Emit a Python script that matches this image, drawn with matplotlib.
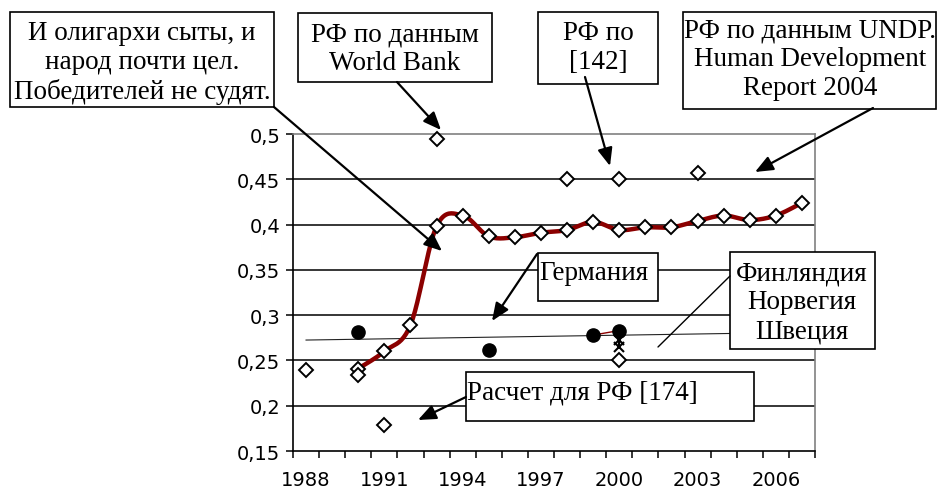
import numpy as np
import matplotlib
matplotlib.use("Agg")
import matplotlib.pyplot as plt
from matplotlib.patches import Rectangle, FancyArrowPatch

# ---------------- data ----------------
years = list(range(1988, 2008))
tick_label_years = [1988, 1991, 1994, 1997, 2000, 2003, 2006]
y_ticks = [0.15, 0.2, 0.25, 0.3, 0.35, 0.4, 0.45, 0.5]
y_tick_labels = ["0,15", "0,2", "0,25", "0,3", "0,35", "0,4", "0,45", "0,5"]

rf_years = [1990, 1991, 1992, 1993, 1994, 1995, 1996, 1997, 1998, 1999,
            2000, 2001, 2002, 2003, 2004, 2005, 2006, 2007]
rf_vals = [0.241, 0.260, 0.289, 0.398, 0.410, 0.387, 0.386, 0.391, 0.394, 0.403,
           0.394, 0.397, 0.397, 0.404, 0.410, 0.405, 0.410, 0.424]

other_years = [1988, 1990, 1991, 1993, 1998, 2000, 2003, 2000]
other_vals = [0.239, 0.234, 0.179, 0.495, 0.450, 0.450, 0.457, 0.250]

circle_years = [1990, 1995]
circle_vals = [0.281, 0.261]

nordic_years = [1999, 2000]
nordic_vals = [0.278, 0.283]

star_years = [2000]
star_vals = [0.273]
x_years = [2000]
x_vals = [0.265]

trend_years = [1988, 2007]
trend_vals = [0.2725, 0.281]

# ---------------- helpers ----------------
W, H = 940, 489


def cat(yrs):
    return np.array([years.index(y) for y in yrs], dtype=float)


def fp(x, y):
    return (x / W, 1 - y / H)


def smooth(x, y, n=24):
    pts = np.column_stack([x, y]).astype(float)
    P = np.vstack([pts[0], pts, pts[-1]])
    out = []
    t = np.linspace(0, 1, n)[:, None]
    for k in range(len(pts) - 1):
        p0, p1, p2, p3 = P[k], P[k + 1], P[k + 2], P[k + 3]
        c1 = p1 + (p2 - p0) / 6.0
        c2 = p2 - (p3 - p1) / 6.0
        seg = (1 - t) ** 3 * p1 + 3 * (1 - t) ** 2 * t * c1 + 3 * (1 - t) * t ** 2 * c2 + t ** 3 * p2
        out.append(seg if k == 0 else seg[1:])
    s = np.vstack(out)
    return s[:, 0], s[:, 1]


# ---------------- figure ----------------
fig = plt.figure(figsize=(9.4, 4.89), dpi=100)
ax = fig.add_axes([293 / W, 1 - 452 / H, (815 - 293) / W, (452 - 135) / H])

ax.set_xlim(-0.5, len(years) - 0.5)
ax.set_ylim(0.15, 0.5)

# gridlines
ax.hlines([v for v in y_ticks if 0.15 < v < 0.5], -0.5, len(years) - 0.5,
          color="black", lw=1.1, zorder=1)

# spines
for s in ["left", "bottom"]:
    ax.spines[s].set_color("black")
    ax.spines[s].set_linewidth(1.2)
for s in ["top", "right"]:
    ax.spines[s].set_color("#808080")
    ax.spines[s].set_linewidth(1.2)

TICKFONT = "DejaVu Sans"
TFS = 14

# ticks
ax.set_yticks(y_ticks)
ax.set_yticklabels(y_tick_labels, fontfamily=TICKFONT, fontsize=TFS)
ax.tick_params(axis="y", direction="out", length=5, width=1.1, pad=4)
ax.set_xticks(np.arange(-0.5, len(years), 1.0))
ax.set_xticklabels([])
ax.tick_params(axis="x", which="major", direction="out", length=5, width=1.1)
ax.set_xticks(cat(tick_label_years), minor=True)
ax.set_xticklabels([str(y) for y in tick_label_years], minor=True,
                   fontfamily=TICKFONT, fontsize=TFS)
ax.tick_params(axis="x", which="minor", length=0, pad=14)

# trend line
ax.plot(cat(trend_years), trend_vals, color="#222222", lw=0.8, zorder=2)

# smooth Russia line
sx, sy = smooth(cat(rf_years), rf_vals)
ax.plot(sx, sy, color="#8B0000", lw=3.2, zorder=3, solid_capstyle="butt")
ax.plot(cat(rf_years), rf_vals, ls="none", marker="D", ms=7.5, mfc="white",
        mec="black", mew=1.4, zorder=4)

# other diamonds
ax.plot(cat(other_years), other_vals, ls="none", marker="D", ms=7.5, mfc="white",
        mec="black", mew=1.4, zorder=4, clip_on=False)

# circles
ax.plot(cat(circle_years), circle_vals, ls="none", marker="o", ms=9.5,
        color="black", zorder=4)
ax.plot(cat(nordic_years), nordic_vals, color="#8B0000", lw=1.0, marker="o",
        ms=9.5, mfc="black", mec="black", zorder=4)

# star and x
ax.plot(cat(star_years), star_vals, ls="none", marker="x", ms=7.5, mec="black",
        mew=1.5, zorder=4)
ax.plot(cat(star_years), star_vals, ls="none", marker="|", ms=10, mec="black",
        mew=1.5, zorder=4)
ax.plot(cat(x_years), x_vals, ls="none", marker="x", ms=7.5, mec="black",
        mew=1.5, zorder=4)

# ---------------- annotations ----------------
FONT = "Liberation Serif"
FS = 19.5


def box(x0, y0, x1, y1):
    r = Rectangle(fp(x0, y1), (x1 - x0) / W, (y1 - y0) / H,
                  transform=fig.transFigure, facecolor="white",
                  edgecolor="black", lw=1.2, zorder=5)
    fig.add_artist(r)


def arrow(a, b, head=True, lw=1.6):
    style = "-|>,head_length=0.6,head_width=0.25" if head else "-"
    p = FancyArrowPatch(fp(*a), fp(*b), transform=fig.transFigure,
                        arrowstyle=style, mutation_scale=18, lw=lw,
                        color="black", shrinkA=0, shrinkB=0, zorder=6)
    fig.add_artist(p)


def label(x, y, s, ha="center", va="center"):
    fig.text(*fp(x, y), s, fontfamily=FONT, fontsize=FS, ha=ha, va=va,
             multialignment="center", linespacing=1.2, zorder=7)


# arrows
arrow((274, 108), (442, 252))
arrow((397, 83), (441, 131))
arrow((585, 78), (610, 167))
arrow((873, 109), (755, 173))
arrow((537, 255), (492, 322))
arrow((730, 277), (658, 348), head=False, lw=1.0)
arrow((466, 398), (418, 421))

box(10, 13, 274, 108)
label(142, 63, "И олигархи сыты, и\nнарод почти цел.\nПобедителей не судят.")

box(298, 14, 492, 83)
label(395, 49, "РФ по данным\nWorld Bank")

box(538, 13, 658, 85)
label(598, 48, "РФ по\n[142]")

box(683, 13, 936, 110)
label(810, 60, "РФ по данным UNDP.\nHuman Development\nReport 2004")

box(538, 254, 658, 302)
label(539, 273, "Германия", ha="left")

box(730, 253, 875, 350)
label(802, 303, "Финляндия\nНорвегия\nШвеция")

box(466, 373, 754, 422)
label(467, 393, "Расчет для РФ [174]", ha="left")

fig.savefig("out.png", dpi=100)
